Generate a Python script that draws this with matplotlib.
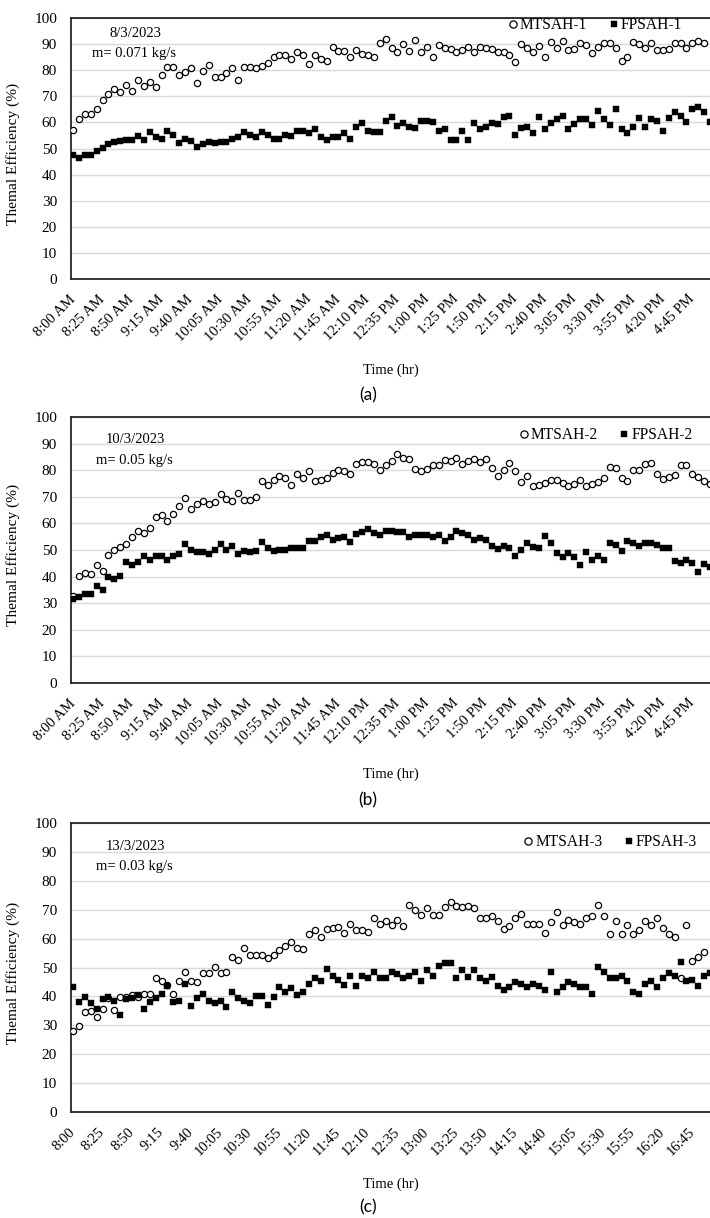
import numpy as np
import matplotlib.pyplot as plt

# thermal efficiency (%) every 5 min from 8:00
mtsah1 = [57.1, 61.2, 63.1, 63.1, 65.3, 68.6, 70.9, 72.7, 71.6, 74.5, 72.2, 76.2, 73.9, 75.5, 73.4,
          78.0, 81.4, 81.4, 78.0, 79.3, 80.8, 75.0, 79.6, 82.0, 77.5, 77.5, 78.8, 80.8, 76.2, 81.4,
          81.4, 80.7, 81.6, 82.9, 84.9, 86.0, 86.0, 84.4, 87.0, 86.0, 82.4, 86.0, 84.4, 83.7, 88.8,
          87.5, 87.5, 84.9, 87.7, 86.2, 86.0, 84.9, 90.5, 91.8,
          88.4, 87.1, 89.9, 87.5, 91.6, 86.8, 88.8, 84.9, 89.7, 88.4, 88.0, 86.8, 87.7, 89.0, 86.8,
          89.0, 88.4, 88.0, 87.1, 87.1, 85.8, 83.1, 89.9, 88.4, 86.8, 89.3, 84.9, 90.7, 88.6, 91.2,
          87.7, 88.0, 90.3, 89.7, 86.5, 88.8, 90.3, 90.3, 88.6, 83.7, 84.9, 90.7, 90.0, 88.6, 90.3,
          87.7, 87.7, 88.0, 90.3, 90.3, 88.6, 90.3, 91.2, 90.3]
fpsah1 = [47.5, 46.5, 47.5, 47.5, 49.2, 50.2, 51.6, 52.5, 53.0, 53.3, 53.3, 54.8, 53.3, 56.2, 54.5,
          53.8, 56.7, 55.2, 52.0, 53.5, 53.0, 50.7, 51.7, 52.6, 52.0, 52.6, 52.6, 53.5, 54.3, 56.2,
          55.3, 54.3, 56.2, 55.3, 53.5, 53.5, 55.3, 54.8, 56.8, 56.8, 56.1, 57.3, 54.3, 53.3, 54.5,
          54.5, 55.8, 53.8, 58.1, 59.9, 56.6, 56.2, 56.2, 60.7,
          62.2, 58.7, 59.9, 58.4, 57.9, 60.7, 60.7, 60.2, 56.6, 57.6, 53.3, 53.3, 56.6, 53.3, 59.6,
          57.5, 58.4, 59.6, 59.4, 62.2, 62.6, 55.2, 57.9, 58.4, 56.1, 62.2, 57.5, 59.6, 61.2, 62.5,
          57.6, 59.4, 61.4, 61.4, 58.9, 64.5, 61.3, 58.9, 65.3, 57.5, 56.1, 58.4, 61.6, 58.4, 61.2,
          60.7, 56.6, 61.6, 64.1, 62.6, 60.3, 65.0, 65.8, 64.0, 60.3]

mtsah2 = [32.9, 40.4, 41.3, 41.0, 44.2, 42.3, 48.3, 50.1, 51.0, 52.1, 54.8, 57.1, 56.3, 58.3, 62.4,
          63.0, 60.9, 63.6, 66.4, 69.6, 65.6, 67.4, 68.6, 67.4, 68.0, 70.9, 69.1, 68.6, 71.4, 68.9,
          68.9, 69.9, 75.9, 74.4, 76.2, 77.7, 77.2, 74.4, 78.7, 77.2, 79.7, 75.9, 76.2, 77.2, 78.9,
          80.2, 79.7, 78.7, 82.2, 83.2, 83.2, 82.2, 80.2, 81.8,
          83.3, 86.2, 84.7, 84.2, 80.6, 79.9, 80.6, 81.8, 81.8, 83.7, 83.3, 84.7, 82.4, 83.3, 84.2,
          83.1, 84.2, 80.9, 78.0, 80.2, 82.7, 79.7, 75.5, 78.0, 73.9, 74.4, 75.2, 76.2, 76.2, 75.2,
          73.9, 74.9, 76.2, 73.9, 74.9, 75.5, 77.2, 81.4, 80.9, 76.9, 75.9, 80.2, 80.2, 82.4, 82.9,
          78.7, 76.8, 77.4, 78.2, 81.9, 81.9, 78.7, 77.4, 75.9, 74.9]
fpsah2 = [31.6, 32.5, 33.5, 33.5, 36.3, 34.8, 40.0, 39.1, 40.4, 45.4, 44.2, 45.4, 47.9, 46.3, 47.9,
          47.6, 46.3, 47.6, 48.6, 52.3, 50.1, 49.2, 49.2, 48.6, 50.1, 52.3, 50.1, 51.6, 48.6, 49.8,
          49.2, 49.6, 52.9, 50.8, 49.6, 50.1, 50.1, 50.8, 50.8, 50.8, 53.3, 53.3, 54.8, 55.5, 53.6,
          54.6, 54.8, 52.9, 56.1, 56.6, 58.1, 56.3, 55.8, 57.1,
          57.3, 56.7, 56.7, 54.8, 55.8, 55.8, 55.8, 54.8, 55.8, 53.3, 54.8, 57.1, 56.3, 55.8, 53.6,
          54.6, 53.8, 51.6, 50.3, 51.6, 50.6, 47.8, 50.1, 52.6, 51.1, 50.6, 55.3, 52.8, 48.8, 47.3,
          48.8, 47.3, 44.5, 49.1, 46.3, 47.6, 46.3, 52.8, 51.8, 49.8, 53.3, 52.8, 51.6, 52.6, 52.6,
          51.8, 50.6, 50.6, 45.8, 45.3, 46.3, 45.0, 41.7, 44.8, 43.5]

mtsah3 = [27.9, 29.8, 34.7, 34.9, 33.0, 35.8, 39.3, 35.2, 39.8, 39.8, 40.5, 39.8, 41.0, 40.7, 46.3,
          45.5, 44.0, 40.7, 45.3, 48.4, 45.3, 45.1, 48.0, 48.0, 50.2, 48.0, 48.4, 53.7, 52.7, 56.7,
          54.2, 54.2, 54.2, 53.3, 54.4, 56.2, 57.3, 58.8, 56.7, 56.4, 61.6, 63.0, 60.5, 63.3, 63.7,
          63.9, 62.1, 64.9, 63.1, 63.1, 62.2, 67.0, 65.1, 66.0,
          64.7, 66.3, 64.2, 71.6, 69.8, 68.1, 70.7, 68.1, 68.1, 70.9, 72.6, 71.2, 70.9, 71.3, 70.7,
          67.2, 67.2, 67.8, 66.0, 63.3, 64.2, 67.2, 68.6, 65.1, 64.9, 65.1, 62.1, 65.6, 69.1, 64.7,
          66.6, 65.8, 65.1, 67.0, 67.8, 71.6, 67.8, 61.6, 66.0, 61.6, 64.7, 61.6, 63.1, 66.0, 64.7,
          67.0, 63.5, 61.6, 60.7, 46.5, 64.7, 52.1, 53.7, 55.3]
fpsah3 = [43.3, 38.1, 39.9, 37.6, 35.8, 39.1, 39.9, 38.4, 33.5, 39.1, 39.3, 40.5, 35.8, 38.1, 39.3,
          40.7, 43.6, 38.1, 38.4, 44.4, 36.7, 39.3, 41.0, 38.4, 37.6, 38.4, 36.4, 41.6, 39.3, 38.4,
          37.6, 40.2, 40.2, 37.2, 39.9, 43.3, 41.4, 43.0, 40.5, 41.6, 44.2, 46.5, 45.3, 49.5, 47.2,
          45.7, 44.0, 46.9, 43.7, 47.2, 46.3, 48.6, 46.3, 46.3,
          48.4, 47.9, 46.3, 47.2, 48.4, 45.3, 49.2, 47.2, 50.5, 51.4, 51.4, 46.3, 49.2, 46.7, 49.2,
          46.3, 45.3, 46.7, 43.7, 42.3, 43.3, 44.9, 44.2, 43.3, 44.2, 43.7, 42.3, 48.6, 41.4, 43.3,
          44.9, 44.2, 43.3, 43.3, 40.7, 50.2, 48.4, 46.3, 46.3, 47.2, 45.3, 41.4, 40.7, 44.2, 45.3,
          43.3, 46.3, 48.0, 47.2, 51.9, 45.3, 45.7, 43.7, 47.2, 48.0]

ampm_labels = ['8:00 AM', '8:25 AM', '8:50 AM', '9:15 AM', '9:40 AM', '10:05 AM', '10:30 AM',
               '10:55 AM', '11:20 AM', '11:45 AM', '12:10 PM', '12:35 PM', '1:00 PM', '1:25 PM',
               '1:50 PM', '2:15 PM', '2:40 PM', '3:05 PM', '3:30 PM', '3:55 PM', '4:20 PM', '4:45 PM']
h24_labels = ['8:00', '8:25', '8:50', '9:15', '9:40', '10:05', '10:30', '10:55', '11:20', '11:45',
              '12:10', '12:35', '13:00', '13:25', '13:50', '14:15', '14:40', '15:05', '15:30',
              '15:55', '16:20', '16:45']

SERIF = 'Liberation Serif'
FS = 10.5

fig = plt.figure(figsize=(7.1, 12.18), dpi=100)


def panel(rect, mt, fp, names, date, flow, ticklabels, leg_xy, note_y, xlab_y, cap, cap_y):
    ax = fig.add_axes(rect)
    ax.plot(np.arange(len(mt)), mt, 'o', ms=4.5, mfc='white', mec='black', mew=0.9,
            label=names[0], zorder=3)
    ax.plot(np.arange(len(fp)), fp, 's', ms=4.1, mfc='black', mec='black', mew=0.3,
            label=names[1], zorder=4)
    ax.set_xlim(-0.35, 108.0)
    ax.set_ylim(0, 100)
    ax.set_yticks(np.arange(0, 101, 10))
    ax.set_xticks(np.arange(len(ticklabels)) * 5)
    ax.set_xticklabels(ticklabels, rotation=45, ha='right', va='center',
                       rotation_mode='anchor', family=SERIF, fontsize=FS)
    for t in ax.get_yticklabels():
        t.set_family(SERIF)
        t.set_fontsize(FS + 0.5)
    ax.tick_params(axis='both', length=0)
    ax.tick_params(axis='x', pad=13)
    ax.tick_params(axis='y', pad=10)
    ax.grid(axis='y', color='#d9d9d9', lw=1)
    ax.set_axisbelow(True)
    for s in ['left', 'bottom', 'top']:
        ax.spines[s].set_color('#262626')
        ax.spines[s].set_linewidth(1.3)
    ax.spines['right'].set_visible(False)
    ax.set_ylabel('Themal Efficiency (%)', family=SERIF, fontsize=FS + 0.6)
    ax.yaxis.set_label_coords(-0.08, 0.48)
    ax.set_xlabel('Time (hr)', family=SERIF, fontsize=FS)
    ax.xaxis.set_label_coords(0.5, xlab_y)
    ax.legend(loc='center', bbox_to_anchor=leg_xy, ncol=2, frameon=False, handlelength=0.6,
              handletextpad=0.15, columnspacing=1.4, borderaxespad=0, markerscale=1.15,
              prop={'family': SERIF, 'size': FS + 0.7})
    ax.text(0.101, note_y[0], date, transform=ax.transAxes, ha='center', va='center',
            family=SERIF, fontsize=FS)
    ax.text(0.099, note_y[1], flow, transform=ax.transAxes, ha='center', va='center',
            family=SERIF, fontsize=FS)
    fig.text(0.518, cap_y, cap, ha='center', va='center', family='Lato', fontsize=12.5)
    return ax


panel([0.1, 0.7709, 0.9, 0.2143], mtsah1, fpsah1, ['MTSAH-1', 'FPSAH-1'], '8/3/2023',
      'm= 0.071 kg/s', ampm_labels, (0.82, 0.973), (0.9425, 0.866), -0.322, '(a)', 1 - 395 / 1218)
panel([0.1, 0.4392, 0.9, 0.2184], mtsah2, fpsah2, ['MTSAH-2', 'FPSAH-2'], '10/3/2023',
      'm= 0.05 kg/s', ampm_labels, (0.837, 0.932), (0.917, 0.835), -0.316, '(b)', 1 - 800 / 1218)
panel([0.1, 0.0870, 0.9, 0.2373], mtsah3, fpsah3, ['MTSAH-3', 'FPSAH-3'], '13/3/2023',
      'm= 0.03 kg/s', h24_labels, (0.844, 0.934), (0.917, 0.851), -0.225, '(c)', 1 - 1207 / 1218)

fig.savefig('out.png', dpi=100)
